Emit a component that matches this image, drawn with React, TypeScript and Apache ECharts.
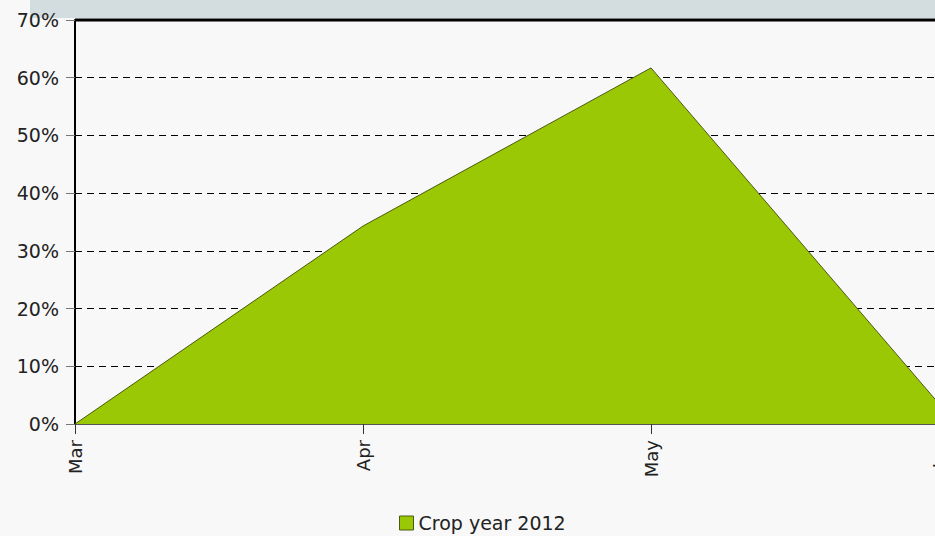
import React, { useEffect, useRef } from "react";
import * as echarts from "echarts";

const categories = ["Mar", "Apr", "May", "Jun"];
const cropYear2012 = [0, 34.3, 61.7, 3.5];
const yTicks = [0, 10, 20, 30, 40, 50, 60, 70];
const seriesName = "Crop year 2012";

export default function App() {
  const ref = useRef<HTMLDivElement>(null);
  useEffect(() => {
    const chart = echarts.init(ref.current!, undefined, { renderer: "svg" });
    const font = "DejaVu Sans";
    chart.setOption({
      animation: false,
      backgroundColor: "#f8f8f8",
      textStyle: { fontFamily: font },
      graphic: [
        { type: "rect", shape: { x: 30, y: 0, width: 1000, height: 18 }, style: { fill: "#d3dcdf" }, z: -1 },
        { type: "line", shape: { x1: 75, y1: 20, x2: 1000, y2: 20 }, style: { stroke: "#000", lineWidth: 3 }, z: 10 },
      ],
      legend: {
        left: 399,
        top: 512,
        padding: 0,
        itemWidth: 14,
        itemHeight: 14,
        itemGap: 8,
        icon: "rect",
        textStyle: { fontSize: 19, lineHeight: 22, color: "#222", fontFamily: font },
        data: [{ name: seriesName, itemStyle: { color: "#9bc805", borderColor: "#4c5a10", borderWidth: 1 } }],
      },
      grid: { left: 75, top: 20, bottom: 112, right: 61, containLabel: false },
      xAxis: {
        type: "category",
        data: categories,
        boundaryGap: false,
        axisLine: { lineStyle: { color: "#555", width: 1 } },
        axisTick: { show: true, length: 10, lineStyle: { color: "#333" } },
        axisLabel: { rotate: 90, fontSize: 18, color: "#222", margin: 16, fontFamily: font },
        splitLine: { show: false },
      },
      yAxis: {
        type: "value",
        min: 0,
        max: 70,
        interval: 10,
        axisLine: { show: true, lineStyle: { color: "#000", width: 2 } },
        axisTick: { show: true, length: 9, lineStyle: { color: "#777" } },
        axisLabel: {
          fontSize: 19,
          color: "#222",
          margin: 16,
          fontFamily: font,
          formatter: (v: number) => (yTicks.includes(v) ? v + "%" : ""),
        },
        splitLine: { show: true, lineStyle: { color: "#000", type: [7, 5], width: 1 } },
      },
      series: [
        {
          name: seriesName,
          type: "line",
          data: cropYear2012,
          symbol: "none",
          lineStyle: { color: "#4c5a10", width: 1 },
          areaStyle: { color: "#9bc805", opacity: 1 },
          itemStyle: { color: "#9bc805" },
          z: 5,
        },
      ],
    });
    return () => chart.dispose();
  }, []);
  return (
    <div style={{ position: "fixed", left: 0, top: 0, width: 935, height: 536, overflow: "hidden" }}>
      <div ref={ref} style={{ width: 1000, height: 536 }} />
    </div>
  );
}
